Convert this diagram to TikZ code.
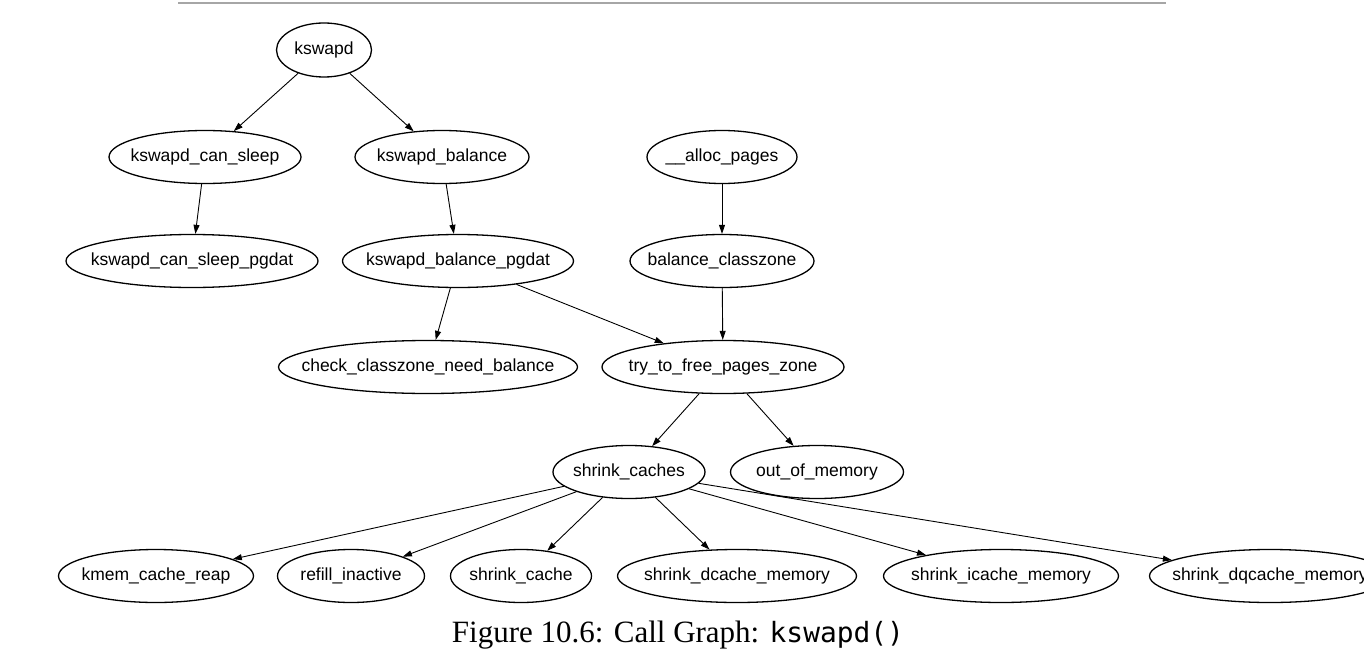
\documentclass[tikz,border=0pt]{standalone}
\usepackage{fontspec}
\setmainfont{Liberation Serif}
\setsansfont{Liberation Sans}
\setmonofont{DejaVu Sans Mono}[Scale=0.9]
\usetikzlibrary{shapes.geometric,arrows.meta}

\tikzset{
    fn/.style={draw, ellipse, line width=1.3pt, minimum height=53pt, inner sep=0pt,
        font=\sffamily\fontsize{17.5}{20}\selectfont},
    call/.style={-{Triangle[length=9pt,width=6pt]}, line width=0.9pt},
}
\newcommand{\fname}[1]{\makebox[0pt]{#1}}

\begin{document}
\begin{tikzpicture}[x=1pt, y=-1pt]
    \useasboundingbox (0,0) rectangle (1364,666);
    \draw[gray!70, line width=2pt] (178,3) -- (1166,3);

    % callers
    \node[fn, minimum width=95pt, minimum height=54pt] (kswapd) at (324,50) {\fname{kswapd}};
    \node[fn, minimum width=192pt] (cansleep) at (205,157) {\fname{kswapd\_can\_sleep}};
    \node[fn, minimum width=174pt] (balance) at (442,157) {\fname{kswapd\_balance}};
    \node[fn, minimum width=150pt] (alloc) at (722,157) {\fname{\_\_alloc\_pages}};
    \node[fn, minimum width=252pt] (cansleeppg) at (192,261) {\fname{kswapd\_can\_sleep\_pgdat}};
    \node[fn, minimum width=231pt] (balancepg) at (458,261) {\fname{kswapd\_balance\_pgdat}};
    \node[fn, minimum width=184pt] (classzone) at (722,261) {\fname{balance\_classzone}};
    \node[fn, minimum width=299pt] (needbal) at (428,367) {\fname{check\_classzone\_need\_balance}};
    \node[fn, minimum width=242pt] (tryfree) at (723,367) {\fname{try\_to\_free\_pages\_zone}};
    \node[fn, minimum width=152pt] (shrinks) at (629,472) {\fname{shrink\_caches}};
    \node[fn, minimum width=173pt] (oom) at (817,472) {\fname{out\_of\_memory}};

    % shrink_caches callees
    \node[fn, minimum width=195pt] (reap) at (156,576) {\fname{kmem\_cache\_reap}};
    \node[fn, minimum width=147pt] (refill) at (351,576) {\fname{refill\_inactive}};
    \node[fn, minimum width=141pt] (shrink) at (521,576) {\fname{shrink\_cache}};
    \node[fn, minimum width=239pt] (dcache) at (737,576) {\fname{shrink\_dcache\_memory}};
    \node[fn, minimum width=235pt] (icache) at (1001,576) {\fname{shrink\_icache\_memory}};
    \node[fn, minimum width=241pt] (dqcache) at (1270,576) {\fname{shrink\_dqcache\_memory}};

    \draw[call] (kswapd) -- (cansleep);
    \draw[call] (kswapd) -- (balance);
    \draw[call] (cansleep) -- (cansleeppg);
    \draw[call] (balance) -- (balancepg);
    \draw[call] (alloc) -- (classzone);
    \draw[call] (classzone) -- (tryfree);
    \draw[call] (balancepg) -- (needbal);
    \draw[call] (balancepg) -- (tryfree);
    \draw[call] (tryfree) -- (shrinks);
    \draw[call] (tryfree) -- (oom);
    \foreach \callee in {reap, refill, shrink, dcache, icache, dqcache}
        \draw[call] (shrinks) -- (\callee);

    \node[anchor=base, font=\fontsize{31}{36}\selectfont] (caption) at (678,642)
        {Figure 10.6: Call Graph: \texttt{kswapd()}};
\end{tikzpicture}
\end{document}
